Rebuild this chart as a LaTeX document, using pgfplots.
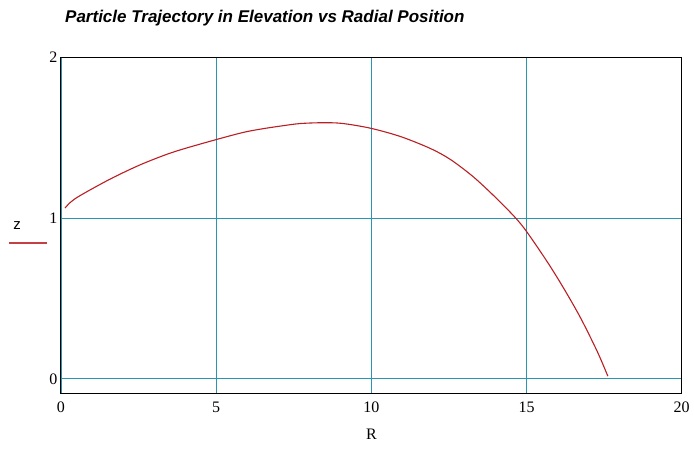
\documentclass[border=0pt]{standalone}
\usepackage{pgfplots}
\pgfplotsset{compat=1.18}
\usepackage{fontspec}
\setmainfont{Liberation Serif}
\newfontfamily\arialfont{Liberation Sans}
\definecolor{gridteal}{RGB}{40,150,175}
\definecolor{curvered}{RGB}{185,30,35}
\begin{document}
\begin{tikzpicture}
\useasboundingbox (0pt,0pt) rectangle (694pt,448pt);
\node[anchor=base west,inner sep=0pt,font=\arialfont\bfseries\itshape\fontsize{17}{20}\selectfont] at (65pt,425pt) {Particle Trajectory in Elevation vs Radial Position};
\node[font=\arialfont\fontsize{15}{17}\selectfont] at (17pt,222pt) {z};
\draw[curvered!85,line width=1.1pt] (9pt,205pt) -- (47pt,205pt);
\begin{axis}[
  at={(61pt,55pt)}, anchor=south west,
  scale only axis, width=620.7pt, height=335.5pt,
  xmin=0, xmax=20, ymin=-0.088, ymax=2,
  xtick={0,5,10,15,20}, ytick={0,1,2},
  major tick length=0pt,
  grid=major,
  major grid style={gridteal,line width=0.8pt},
  axis line style={black,line width=1pt},
  tick label style={font=\fontsize{16}{18}\selectfont},
  /pgf/number format/assume math mode=true,
  xticklabel style={yshift=-5pt},
  yticklabel style={xshift=0pt},
  xlabel={R}, xlabel style={font=\fontsize{16}{18}\selectfont, yshift=-10pt},
]
\addplot[curvered, line width=1.1pt, smooth] coordinates {
(0.13,1.063) (0.3,1.098) (0.61,1.140) (1.58,1.243) (2.55,1.332) (3.52,1.405) (4.48,1.461)
(5.77,1.529) (6.42,1.554) (7.17,1.576) (7.71,1.589) (8.4,1.594) (9.05,1.590)
(9.97,1.560) (10.94,1.508) (11.9,1.434) (12.55,1.365) (13.3,1.255) (14.05,1.120)
(14.65,1.001) (15.02,0.912) (15.67,0.728) (16.2,0.563) (16.74,0.38) (17.28,0.17) (17.62,0.017)
};
\end{axis}
\end{tikzpicture}
\end{document}
